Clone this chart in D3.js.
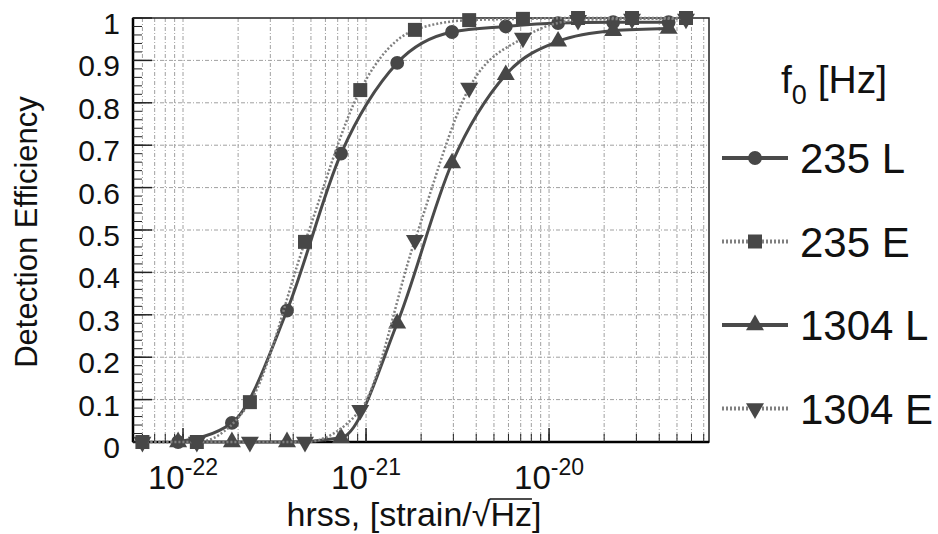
<!DOCTYPE html>
<html>
<head>
<meta charset="utf-8">
<script src="https://cdn.jsdelivr.net/npm/d3@7"></script>
<style>
  body { margin: 0; background: #fff; }
  svg { display: block; font-family: 'Liberation Sans', Arial, sans-serif; }
</style>
</head>
<body>
<svg width="938" height="534"></svg>
<script>
// hrss values (two injection grids) and detection efficiencies
const hrssL = [9.4e-23, 1.85e-22, 3.7e-22, 7.3e-22, 1.48e-21, 2.95e-21, 5.8e-21, 1.12e-20, 2.24e-20, 4.5e-20]
const hrssE = [6.0e-23, 1.19e-22, 2.32e-22, 4.64e-22, 9.3e-22, 1.85e-21, 3.66e-21, 7.2e-21, 1.44e-20, 2.84e-20, 5.6e-20]
const eff235L = [0, 0.045, 0.31, 0.68, 0.894, 0.967, 0.98, 0.988, 0.99, 0.99]
const eff235E = [0, 0, 0.094, 0.472, 0.83, 0.972, 0.995, 0.998, 1.0, 1.0, 1.0]
const eff1304L = [0, 0, 0, 0.01, 0.28, 0.658, 0.866, 0.945, 0.97, 0.975]
const eff1304E = [0, 0, 0, 0, 0.075, 0.476, 0.835, 0.953, 0.995, 0.998, 0.998]
const seriesNames = ['235 L', '235 E', '1304 L', '1304 E']
const yTicks = [0, 0.1, 0.2, 0.3, 0.4, 0.5, 0.6, 0.7, 0.8, 0.9, 1]
const xDecades = [-22, -21, -20]

const svg = d3.select('svg')
const margin = {top: 18, left: 133}
const width = 576, height = 424
const g = svg.append('g').attr('transform', 'translate(' + margin.left + ',' + margin.top + ')')

// Scales
const x = d3.scaleLog().domain([5.33e-23, 7.48e-20]).range([0, width])
const y = d3.scaleLinear().domain([0, 1]).range([height, 0])

// grid: major + minor log lines
const minorX = []
for (let e = -23; e <= -20; e++) for (let m = 1; m <= 9; m++) {
  const v = m * Math.pow(10, e)
  if (v > x.domain()[0] && v < x.domain()[1]) minorX.push(v)
}
g.selectAll('.vgrid').data(minorX).enter().append('line')
  .attr('x1', d => x(d)).attr('x2', d => x(d)).attr('y1', 0).attr('y2', height)
  .attr('stroke', '#a0a0a0').attr('stroke-width', 1).attr('stroke-dasharray', '4,2,1,2')
g.selectAll('.hgrid').data(yTicks.slice(1, -1)).enter().append('line')
  .attr('x1', 0).attr('x2', width).attr('y1', d => y(d)).attr('y2', d => y(d))
  .attr('stroke', '#a0a0a0').attr('stroke-width', 1).attr('stroke-dasharray', '4,2,1,2')

// box
g.append('rect').attr('width', width).attr('height', height)
  .attr('fill', 'none').attr('stroke', '#222').attr('stroke-width', 1.5)
g.append('line').attr('x1', 0).attr('x2', 0).attr('y1', 0).attr('y2', height)
  .attr('stroke', '#000').attr('stroke-width', 2.5)
g.append('line').attr('x1', 0).attr('x2', width).attr('y1', height).attr('y2', height)
  .attr('stroke', '#000').attr('stroke-width', 2.5)

// y ticks (major + minor, inward)
const yMinor = d3.range(0, 1.0001, 0.02)
g.selectAll('.ymin').data(yMinor).enter().append('line')
  .attr('x1', 0).attr('x2', 9).attr('y1', d => y(d)).attr('y2', d => y(d))
  .attr('stroke', '#222').attr('stroke-width', 1)
g.selectAll('.ymaj').data(yTicks).enter().append('line')
  .attr('x1', 0).attr('x2', 19).attr('y1', d => y(d)).attr('y2', d => y(d))
  .attr('stroke', '#222').attr('stroke-width', 1.5)
g.selectAll('.ylab').data(yTicks).enter().append('text')
  .attr('x', -13).attr('y', d => y(d)).attr('dy', 16)
  .attr('text-anchor', 'end').attr('font-size', 30).attr('fill', '#111')
  .text(d => d3.format('')(d))

// x ticks
g.selectAll('.xmin').data(minorX).enter().append('line')
  .attr('x1', d => x(d)).attr('x2', d => x(d)).attr('y1', height).attr('y2', height - 8)
  .attr('stroke', '#222').attr('stroke-width', 1)
g.selectAll('.xmaj').data(xDecades).enter().append('line')
  .attr('x1', d => x(Math.pow(10, d))).attr('x2', d => x(Math.pow(10, d)))
  .attr('y1', height).attr('y2', height - 14)
  .attr('stroke', '#222').attr('stroke-width', 1.5)
const xl = g.selectAll('.xlab').data(xDecades).enter().append('text')
  .attr('x', d => x(Math.pow(10, d))).attr('y', height + 47)
  .attr('text-anchor', 'middle').attr('font-size', 33).attr('fill', '#111')
xl.append('tspan').text('10')
xl.append('tspan').attr('font-size', 23).attr('dy', -14).text(d => '-' + (-d))

// axis titles
svg.append('text')
  .attr('transform', 'translate(37,' + (margin.top + height / 2 + 2) + ') rotate(-90)')
  .attr('text-anchor', 'middle').attr('font-size', 31).attr('fill', '#111')
  .text('Detection Efficiency')
const xtBase = 526
const xt = svg.append('text').attr('x', margin.left + 281).attr('y', xtBase)
  .attr('text-anchor', 'middle').attr('font-size', 34).attr('fill', '#111')
  .text('hrss, [strain/\u221AHz]')
// overbar of the radical, drawn over "Hz"
const node = xt.node()
const rootIdx = node.textContent.indexOf('\u221A')
const barStart = node.getEndPositionOfChar(rootIdx).x - 1
const barEnd = node.getEndPositionOfChar(rootIdx + 2).x
svg.append('line').attr('x1', barStart).attr('x2', barEnd)
  .attr('y1', xtBase - 27).attr('y2', xtBase - 27)
  .attr('stroke', '#111').attr('stroke-width', 1.5)

// series
const series = [
  {name: seriesNames[0], xs: hrssL, ys: eff235L, symbol: d3.symbolCircle, size: 150, rot: 0, dash: null},
  {name: seriesNames[1], xs: hrssE, ys: eff235E, symbol: d3.symbolSquare, size: 196, rot: 0, dash: '2,2'},
  {name: seriesNames[2], xs: hrssL, ys: eff1304L, symbol: d3.symbolTriangle, size: 140, rot: 0, dash: null},
  {name: seriesNames[3], xs: hrssE, ys: eff1304E, symbol: d3.symbolTriangle, size: 140, rot: 180, dash: '2,2'}
]
const line = d3.line().x(d => x(d[0])).y(d => y(d[1])).curve(d3.curveMonotoneX)

series.forEach(s => {
  const pts = s.xs.map((v, i) => [v, s.ys[i]])
  g.append('path').datum(pts).attr('d', line).attr('fill', 'none')
    .attr('stroke', s.dash ? '#808080' : '#4a4a4a')
    .attr('stroke-width', s.dash ? 2.5 : 3)
    .attr('stroke-dasharray', s.dash)
  g.selectAll(null).data(pts).enter().append('path')
    .attr('d', d3.symbol().type(s.symbol).size(s.size))
    .attr('transform', d => 'translate(' + x(d[0]) + ',' + y(d[1]) + ') rotate(' + s.rot + ')')
    .attr('fill', '#474747')
})

// legend
const lg = svg.append('g')
const ft = lg.append('text').attr('x', 781).attr('y', 93).attr('font-size', 39).attr('fill', '#111')
ft.append('tspan').text('f')
ft.append('tspan').attr('font-size', 27).attr('dy', 11).text('0')
ft.append('tspan').attr('dy', -11).text(' [Hz]')
series.forEach((s, i) => {
  const cy = 158 + i * 83.5
  lg.append('line').attr('x1', 722).attr('x2', 788).attr('y1', cy).attr('y2', cy)
    .attr('stroke', s.dash ? '#808080' : '#4a4a4a').attr('stroke-width', 4)
    .attr('stroke-dasharray', s.dash)
  lg.append('path').attr('d', d3.symbol().type(s.symbol).size(s.size))
    .attr('transform', 'translate(755,' + cy + ') rotate(' + s.rot + ')')
    .attr('fill', '#474747')
  lg.append('text').attr('x', 800).attr('y', cy + 15).attr('font-size', 42).attr('fill', '#111')
    .text(s.name)
})
</script>
</body>
</html>
